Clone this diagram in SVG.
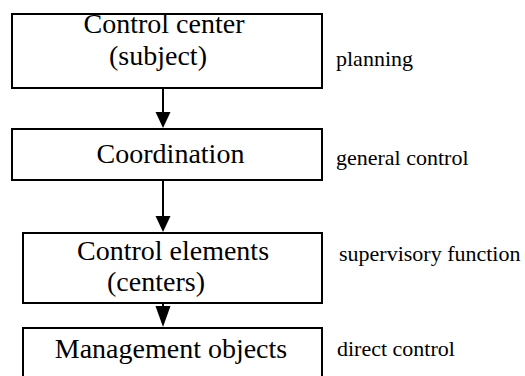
<svg xmlns="http://www.w3.org/2000/svg" width="525" height="376" viewBox="0 0 525 376">
<style>
.box{fill:#fff;stroke:#000;stroke-width:2}
.t{font-family:'Liberation Serif','Tinos','DejaVu Serif',serif;font-size:28px;fill:#000}
.s{font-family:'Liberation Serif','Tinos','DejaVu Serif',serif;font-size:22px;fill:#000}
.ln{stroke:#000;stroke-width:2;fill:none}
.hd{fill:#000;stroke:none}
</style>
<rect width="525" height="376" fill="#fff"/>
<g id="connectors">
<line class="ln" x1="163" y1="88" x2="163" y2="113"/>
<polygon class="hd" points="155.5,112 170.5,112 163,128"/>
<line class="ln" x1="163" y1="180" x2="163" y2="217"/>
<polygon class="hd" points="155.5,216 170.5,216 163,232"/>
<line class="ln" x1="163" y1="303" x2="163" y2="308"/>
<polygon class="hd" points="155.5,306 170.5,306 163,327"/>
</g>
<g id="control-center">
<rect class="box" x="12" y="14" width="310" height="74"/>
<text class="t" x="164" y="33" text-anchor="middle">Control center</text>
<text class="t" x="158" y="65" text-anchor="middle">(subject)</text>
</g>
<g id="coordination">
<rect class="box" x="12" y="129" width="310" height="51"/>
<text class="t" x="170.5" y="163" text-anchor="middle">Coordination</text>
</g>
<g id="control-elements">
<rect class="box" x="23" y="233" width="299" height="70"/>
<text class="t" x="173" y="260" text-anchor="middle">Control elements</text>
<text class="t" x="156" y="291" text-anchor="middle">(centers)</text>
</g>
<g id="management-objects">
<rect class="box" x="23" y="328" width="299" height="52"/>
<text class="t" x="171" y="358" text-anchor="middle">Management objects</text>
</g>
<g id="labels">
<text class="s" x="336" y="66">planning</text>
<text class="s" x="336" y="165">general control</text>
<text class="s" x="339" y="261">supervisory function</text>
<text class="s" x="337" y="356">direct control</text>
</g>
</svg>
